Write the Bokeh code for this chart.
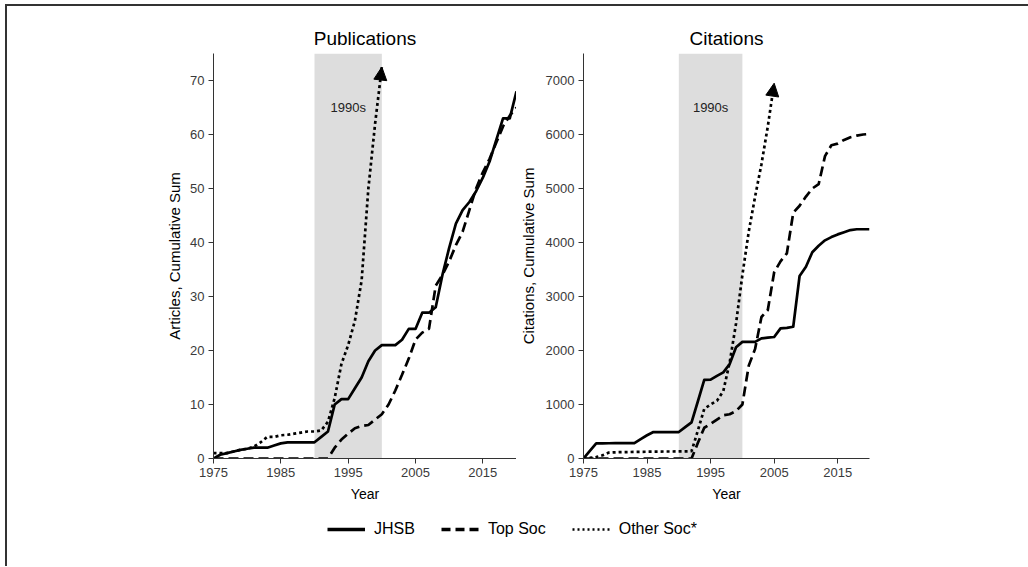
from bokeh.plotting import figure
from bokeh.models import (Range1d, FixedTicker, BoxAnnotation, Label, Arrow,
                          NormalHead, Legend, LegendItem, ColumnDataSource)
from bokeh.layouts import row, column
from bokeh.embed import file_html
from bokeh.resources import INLINE

FONT = "Liberation Sans"

# ---------------- data ----------------
years = list(range(1975, 2021))

pub_jhsb = [0, 0.7, 1.0, 1.3, 1.6, 1.8, 2, 2, 2, 2.4,
            2.8, 3, 3, 3, 3, 3, 4, 5, 10, 11,
            11, 13, 15, 18, 20, 21, 21, 21, 22, 24,
            24, 27, 27, 28, 34, 39, 43.5, 46, 47.5, 49.5,
            52, 55, 59, 63, 63, 68]
pub_top = [0] * 18 + [2, 3.5, 4.6, 5.6, 6, 6.2, 7.2, 8.2, 10, 12.6,
                      15.5, 18.5, 22, 23.3, 24, 32, 34, 36.5, 39.5, 42,
                      46, 50, 53, 55.5, 58.5, 61.5, 63.5, 65]
pub_other_years = list(range(1975, 2001))
pub_other = [1, 1, 1, 1.3, 1.6, 1.8, 2.2, 3, 4, 4,
             4.3, 4.4, 4.6, 4.8, 5, 5, 5.2, 6.8, 11.2, 17.5,
             21, 25.5, 33, 50, 62, 72.5]

cit_jhsb = [0, 140, 280, 280, 282, 283, 284, 285, 286, 360,
            430, 490, 490, 490, 490, 490, 580, 670, 1060, 1455,
            1460, 1530, 1595, 1750, 2060, 2160, 2160, 2160, 2225, 2240,
            2250, 2410, 2420, 2440, 3380, 3550, 3820, 3940, 4040, 4100,
            4150, 4190, 4230, 4245, 4245, 4245]
cit_top = [0] * 18 + [290, 570, 640, 720, 800, 820, 880, 1000, 1720, 2030,
                      2620, 2750, 3450, 3650, 3800, 4550, 4680, 4850, 5000, 5080,
                      5600, 5800, 5830, 5900, 5950, 5980, 6000, 6010]
cit_other_years = list(range(1975, 2006))
cit_other = [0, 10, 25, 60, 110, 115, 118, 120, 122, 124,
             125, 127, 128, 130, 130, 132, 133, 135, 520, 920,
             1000, 1070, 1250, 1780, 2500, 3400, 4200, 4850, 5450, 6150,
             6950]

x_ticks = [1975, 1985, 1995, 2005, 2015]
pub_ticks = [0, 10, 20, 30, 40, 50, 60, 70]
cit_ticks = [0, 1000, 2000, 3000, 4000, 5000, 6000, 7000]
decade = (1990, 2000)
series_names = ["JHSB", "Top Soc", "Other Soc*"]

LW = 2.7
DASH = "10 5"
DOT = "3 3"
ROW_H = 508


def panel(title, ylabel, ymax, yticks, jh, tp, ox, ot, width, bl, br, label_y,
          ylab_standoff):
    p = figure(width=width, height=ROW_H,
               x_range=Range1d(1975, 2020), y_range=Range1d(0, ymax),
               output_backend="svg", toolbar_location=None,
               min_border_left=bl, min_border_right=br,
               min_border_top=53, min_border_bottom=50,
               title=title)
    p.title.text_font = FONT
    p.title.text_font_size = "19px"
    p.title.text_font_style = "normal"
    p.title.align = "center"
    p.title.text_color = "black"
    p.grid.visible = False
    p.outline_line_color = None
    p.background_fill_color = "white"
    p.border_fill_color = None

    p.add_layout(BoxAnnotation(left=decade[0], right=decade[1],
                               fill_color="#dddddd", fill_alpha=1.0,
                               line_color=None, level="underlay"))

    p.line(years, jh, line_width=LW, color="black", line_join="round")
    p.line(years, tp, line_width=LW, color="black", line_dash=DASH)
    p.line(ox, ot, line_width=LW, color="black", line_dash=DOT)
    p.add_layout(Arrow(end=NormalHead(size=13, fill_color="black",
                                      line_color="black", line_width=1),
                       x_start=ox[-2], y_start=ot[-2],
                       x_end=ox[-1], y_end=ot[-1], line_alpha=0))

    p.add_layout(Label(x=(decade[0] + decade[1]) / 2, y=label_y, text="1990s",
                       text_align="center", text_baseline="middle",
                       text_font=FONT, text_font_size="13px",
                       text_color="#222222"))

    for ax, ticks, lab in ((p.xaxis, x_ticks, "Year"), (p.yaxis, yticks, ylabel)):
        ax.ticker = FixedTicker(ticks=ticks)
        ax.axis_label = lab
        ax.axis_label_text_font = FONT
        ax.axis_label_text_font_size = "14px"
        ax.axis_label_text_font_style = "normal"
        ax.axis_label_text_color = "black"
        ax.major_label_text_font = FONT
        ax.major_label_text_font_size = "13px"
        ax.major_label_text_color = "#3a3a3a"
        ax.axis_line_color = "#333333"
        ax.major_tick_line_color = "#333333"
        ax.minor_tick_line_color = None
        ax.major_tick_out = 5
        ax.major_tick_in = 0
        ax.major_label_standoff = 4
        ax.axis_label_standoff = 6
    p.yaxis.axis_label_text_font_size = "15px"
    p.yaxis.axis_label_standoff = ylab_standoff
    return p


p1 = panel("Publications", "Articles, Cumulative Sum", 75, pub_ticks,
           pub_jhsb, pub_top, pub_other_years, pub_other, 516, 213, 0, 65, 4)
p2 = panel("Citations", "Citations, Cumulative Sum", 7500, cit_ticks,
           cit_jhsb, cit_top, cit_other_years, cit_other, 512, 66, 159, 6500, 6)

# legend panel
p3 = figure(width=1028, height=58, x_range=Range1d(0, 1), y_range=Range1d(0, 1),
            output_backend="svg", toolbar_location=None,
            min_border=0)
p3.axis.visible = False
p3.grid.visible = False
p3.outline_line_color = None
p3.border_fill_color = None
p3.background_fill_color = None
off = ColumnDataSource(data=dict(x=[-5, -4], y=[-5, -4]))
r1 = p3.line("x", "y", source=off, line_width=3.3, color="black")
r2 = p3.line("x", "y", source=off, line_width=3.3, color="black", line_dash="9 5")
r3 = p3.line("x", "y", source=off, line_width=2.4, color="black", line_dash="2 3")
leg = Legend(items=[LegendItem(label=series_names[0], renderers=[r1]),
                    LegendItem(label=series_names[1], renderers=[r2]),
                    LegendItem(label=series_names[2], renderers=[r3])],
             orientation="horizontal", location=(327, 27),
             glyph_width=38, glyph_height=20, label_standoff=9, spacing=26,
             padding=0, margin=0, border_line_alpha=0, background_fill_alpha=0,
             label_text_font=FONT, label_text_font_size="16px",
             label_text_color="black")
p3.add_layout(leg)

border_css = {
    "background-color": "white",
    "background-image": "linear-gradient(#333333, #333333), linear-gradient(#333333, #333333)",
    "background-size": "2px 100%, 100% 2px",
    "background-position": "5px 4px, 5px 4px",
    "background-repeat": "no-repeat",
}
layout = column(row(p1, p2), p3, styles=border_css)

open("out.html", "w").write(file_html(layout, INLINE))
